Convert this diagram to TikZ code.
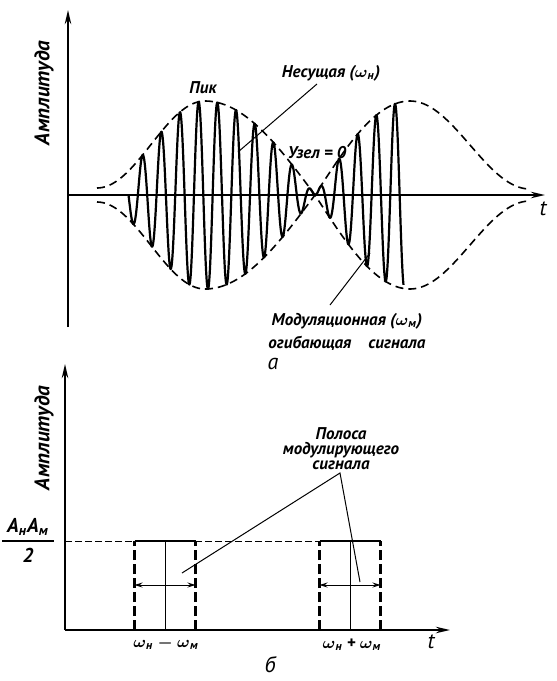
\documentclass[tikz,border=0pt]{standalone}
\usepackage{fontspec}
\setmainfont{PT Sans}
\usetikzlibrary{arrows.meta, positioning}

\begin{document}
\begin{tikzpicture}[x=0.5pt, y=-0.5pt,
    axis/.style={line width=1.1pt, -{Stealth[length=7pt, width=3.2pt]}},
    envdash/.style={line width=0.8pt, dash pattern=on 4pt off 2.5pt},
    carrier/.style={line width=1.1pt, line join=round},
    lead/.style={line width=0.5pt},
    lbl/.style={font=\fontsize{8.5}{7.5}\selectfont\bfseries\itshape\boldmath, inner sep=1pt},
    axlbl/.style={font=\fontsize{10.5}{10}\selectfont\bfseries\itshape, inner sep=1pt, rotate=90},
    biglbl/.style={font=\fontsize{11}{11}\selectfont\itshape, inner sep=1pt},
    levdash/.style={line width=0.5pt, dash pattern=on 3.5pt off 1.5pt},
    sidedash/.style={line width=1.2pt, dash pattern=on 5pt off 2pt},
    dimarr/.style={line width=0.5pt, {Stealth[length=4pt, width=2.5pt]}-{Stealth[length=4pt, width=2.5pt]}},
    declare function={
      envl(\x) = (\x<205) ? (7+43.5*(1-cos((\x-97)*1.6667))) :
                 ((\x<315) ? (94*cos((\x-205)*0.81818)) :
                 ((\x<410) ? (-94*sin((\x-315)*0.94737)) : (-6-44*(1+cos((\x-410)*1.5)))));
      carr(\x) = -envl(\x)*sin((\x-128.5)*19.2513);
    }]
  \useasboundingbox (0,0) rectangle (557,681);

  % a -- time picture
  \coordinate (ytopa) at (68,10);
  \coordinate (ybota) at (68,327);
  \coordinate (xorga) at (68,195);
  \coordinate (xenda) at (545,195);
  \draw[axis] (ybota) -- (ytopa);
  \draw[axis] (xorga) -- (xenda);
  \node[biglbl] (ta) at (543,209) {t};
  \node[axlbl] (ampa) at (44,93) {Амплитуда};

  \draw[envdash] plot[domain=97:530, samples=160, smooth] (\x, {195-envl(\x)});
  \draw[envdash] plot[domain=97:530, samples=160, smooth] (\x, {195+envl(\x)});
  \draw[carrier] plot[domain=128.5:403.5, samples=900] (\x, {195-carr(\x)});

  \node[lbl] (peak) at (203,88) {Пик};
  \node[lbl] (carlbl) at (331,73) {Несущая ($\omega$\textsubscript{н})};
  \node[lbl] (nodelbl) at (317,153) {Узел = 0};
  \node[lbl, align=center] (envlbl) at (347,332) {Модуляционная ($\omega$\textsubscript{м})\\[2.5pt]огибающая\quad сигнала};
  \coordinate (carfoot) at (317,84);
  \coordinate (carpt) at (238,152);
  \coordinate (envfoot) at (330,305);
  \coordinate (envpt) at (370,253);
  \draw[lead] (carfoot) -- (carpt);
  \draw[lead] (envfoot) -- (envpt);
  \node[biglbl] (capa) at (273,364) {а};

  % b -- spectrum
  \coordinate (ytopb) at (65,364);
  \coordinate (xorgb) at (65,630);
  \coordinate (xendb) at (450,630);
  \draw[levdash] (65,541) -- (381,541);
  \foreach \c/\n in {165/lo, 350/hi} {
    \coordinate (\n tl) at (\c-30.5,541);
    \coordinate (\n tr) at (\c+30.5,541);
    \coordinate (\n bl) at (\c-30.5,630);
    \coordinate (\n br) at (\c+30.5,630);
    \draw[sidedash] (\n bl) -- (\n tl);
    \draw[sidedash] (\n br) -- (\n tr);
    \draw[line width=1.2pt] (\n tl) -- (\n tr);
    \draw[lead] (\c,541) -- (\c,630);
    \draw[dimarr] (\c-30.5,585) -- (\c+30.5,585);
  }
  \draw[axis] (xorgb) -- (ytopb);
  \draw[axis] (xorgb) -- (xendb);
  \node[biglbl] (tb) at (431,642) {t};
  \node[axlbl] (ampb) at (44,438) {Амплитуда};
  \node[lbl, font=\fontsize{10}{10}\selectfont\bfseries\itshape] (ampnum) at (28,527) {A\textsubscript{н}A\textsubscript{м}};
  \node[lbl, font=\fontsize{10}{10}\selectfont\bfseries\itshape] (ampden) at (28,555) {2};
  \draw[line width=0.6pt] (2,541) -- (54,541);
  \node[lbl] (lofreq) at (166,643) {$\omega$\textsubscript{н} $-$ $\omega$\textsubscript{м}};
  \node[lbl] (hifreq) at (352,645) {$\omega$\textsubscript{н} + $\omega$\textsubscript{м}};
  \node[lbl, align=center] (band) at (341,449) {Полоса\\модулирующего\\сигнала};
  \coordinate (bandtip) at (340,473);
  \coordinate (loband) at (182,573);
  \coordinate (hiband) at (360,582);
  \draw[lead] (loband) -- (bandtip) -- (hiband);
  \node[biglbl] (capb) at (270,665) {б};
\end{tikzpicture}
\end{document}
